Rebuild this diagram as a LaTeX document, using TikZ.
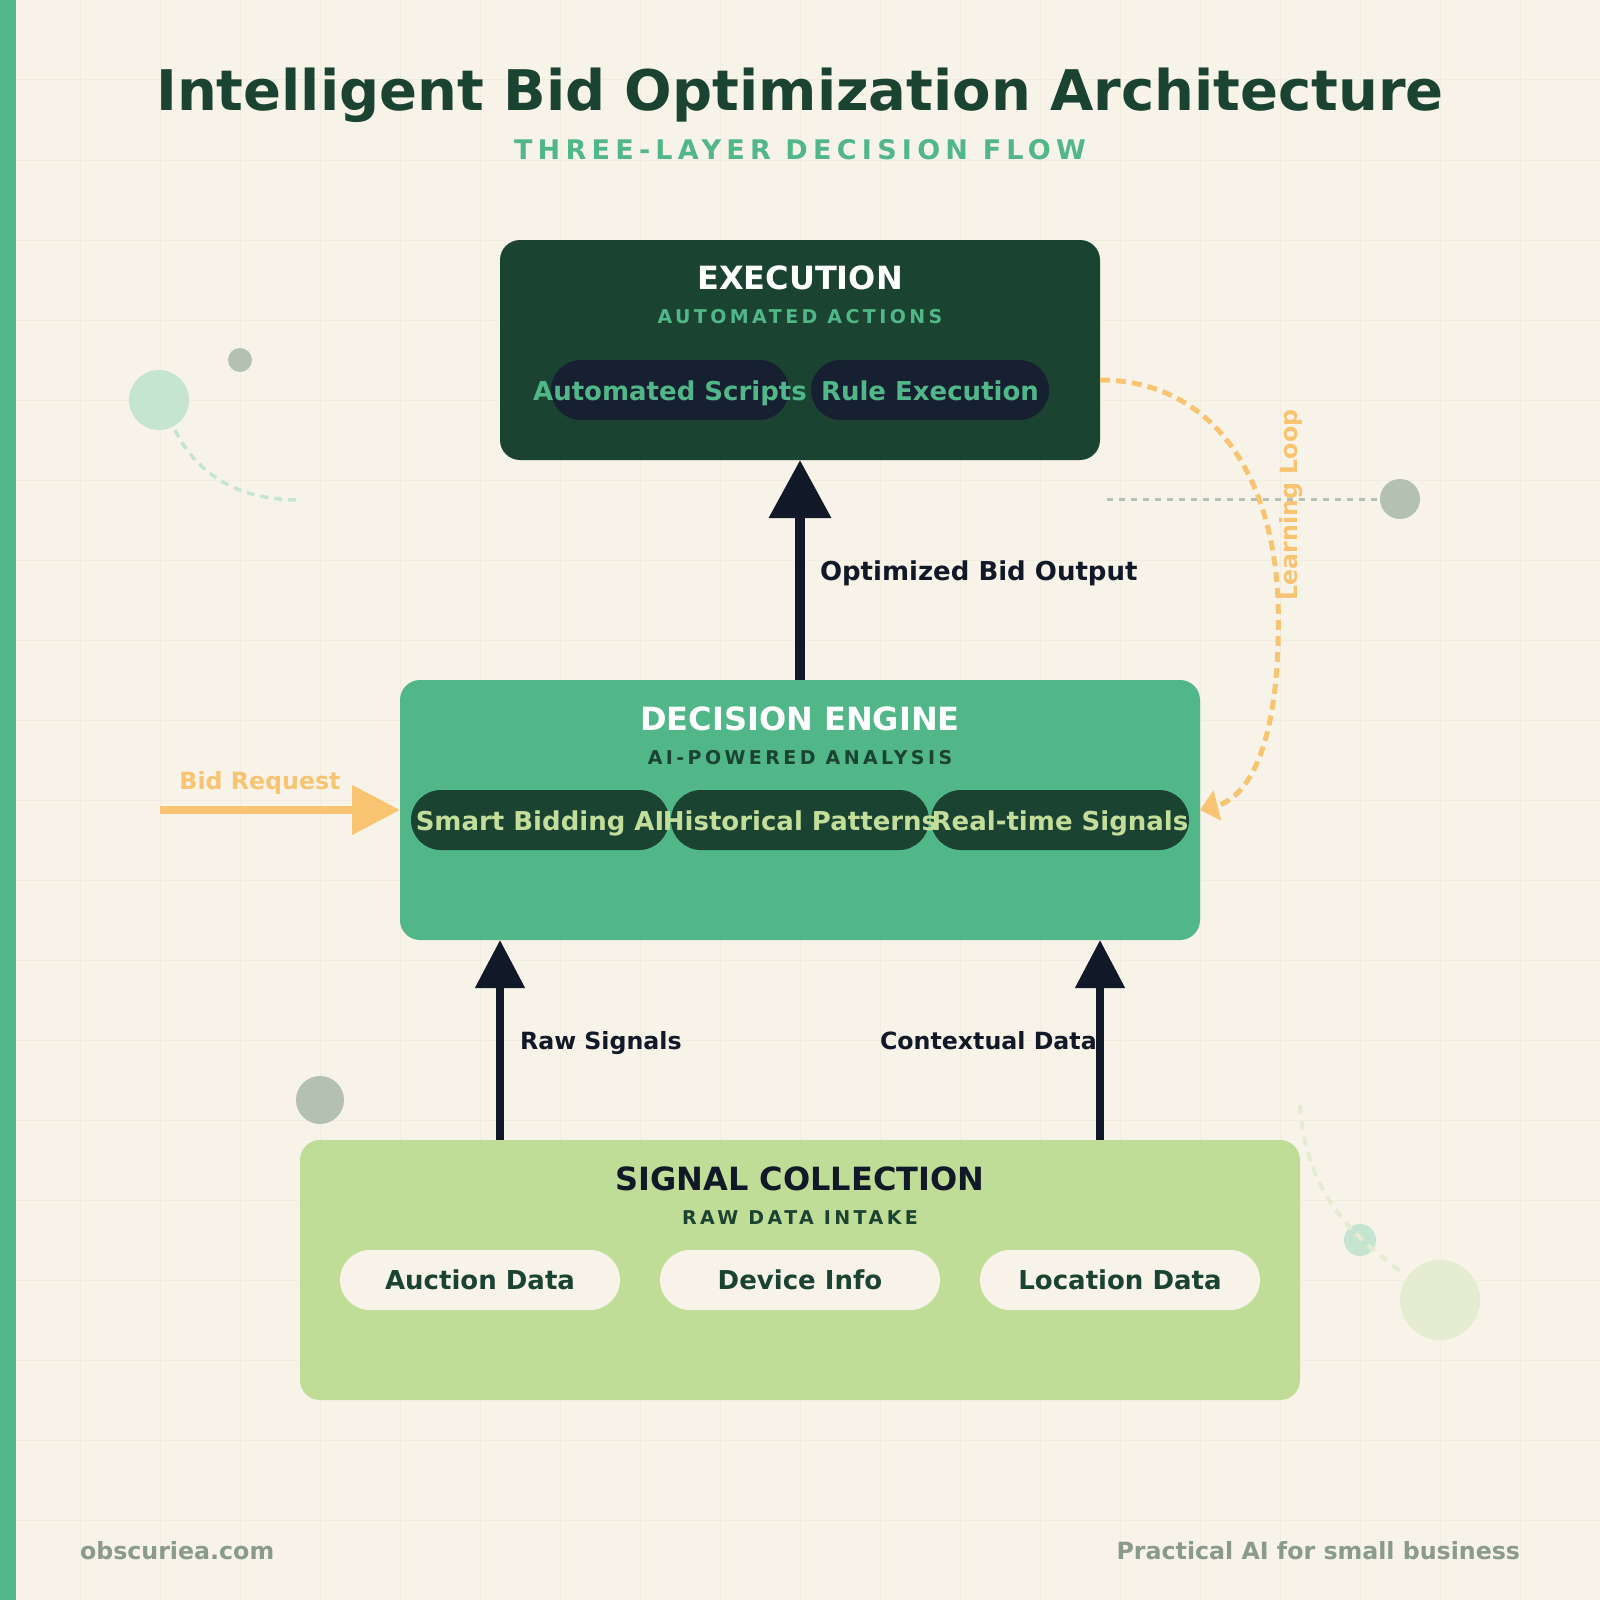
\documentclass[tikz,border=0pt]{standalone}
\usepackage{fontspec}
\setmainfont{DejaVu Sans}
\newfontfamily\lsSub{DejaVu Sans}[LetterSpace=19.5]
\newfontfamily\lsSmall{DejaVu Sans}[LetterSpace=18]
\usetikzlibrary{arrows.meta,calc}
\definecolor{bg}{HTML}{F7F3E9}
\definecolor{gridc}{HTML}{F0ECE0}
\definecolor{brand}{HTML}{52B788}
\definecolor{dkgreen}{HTML}{1B4332}
\definecolor{lime}{HTML}{C0DD97}
\definecolor{limetext}{HTML}{C3DE9B}
\definecolor{navy}{HTML}{162030}
\definecolor{ink}{HTML}{111827}
\definecolor{orange}{HTML}{F8C471}
\definecolor{graydot}{HTML}{B4C0B2}
\definecolor{mint}{HTML}{C6E5D1}
\definecolor{pale}{HTML}{E5ECD1}
\definecolor{foot}{HTML}{8A9A8B}
\newcommand{\fsz}[1]{\fontsize{#1}{#1}\selectfont}
\begin{document}
\begin{tikzpicture}[x=1pt,y=-1pt,
  txt/.style={inner sep=0pt, outer sep=0pt, anchor=base},
  box/.style={rectangle, rounded corners=20pt, inner sep=0pt, outer sep=0pt},
  pill/.style={rectangle, rounded corners=30pt, minimum height=60pt, inner sep=0pt, outer sep=0pt},
  bigarrow/.style={draw=ink, line width=10pt, -{Triangle[length=58pt,width=60pt]}},
  midarrow/.style={draw=ink, line width=8pt, -{Triangle[length=48pt,width=48pt]}},
  head/.style={txt, font=\fsz{32}\bfseries},
  sub/.style={txt, font=\lsSmall\fsz{19}\bfseries},
  pilltext/.style={txt, font=\fsz{26}\bfseries},
  lbl/.style={txt, font=\fsz{23.7}\bfseries, text=ink}]
\useasboundingbox (0,0) rectangle (1600,1600);
\fill[bg] (0,0) rectangle (1600,1600);
\foreach \g in {80,160,...,1520} {
  \draw[gridc, line width=1pt] (\g,0) -- (\g,1600);
  \draw[gridc, line width=1pt] (0,\g) -- (1600,\g);
}
\fill[brand] (0,0) rectangle (16,1600);

% decorations
\fill[mint] (159,400) circle (30);
\fill[graydot] (240,360) circle (12);
\draw[mint, line width=3.5pt, dash pattern=on 8pt off 6pt] (175,430) .. controls (205,490) and (260,500) .. (300,500);
\draw[graydot, line width=3pt, dash pattern=on 6pt off 6pt] (1107,499) -- (1378,499);
\fill[graydot] (1400,499) circle (20);
\fill[graydot] (320,1100) circle (24);
\fill[mint] (1360,1240) circle (16);
\fill[pale] (1440,1300) circle (40);
\draw[pale, line width=4pt, dash pattern=on 9pt off 7pt] (1300,1105) .. controls (1305,1190) and (1350,1235) .. (1402,1272);

% title
\node[txt, text=dkgreen, font=\fsz{56}\bfseries] (title) at (800,111) {Intelligent Bid Optimization Architecture};
\node[txt, text=brand, font=\lsSub\fsz{27}\bfseries] (subtitle) at (800,160) {THREE-LAYER DECISION FLOW};

% boxes
\node[box, fill=dkgreen, minimum width=600pt, minimum height=220pt] (exec) at (800,350) {};
\node[box, fill=brand, minimum width=800pt, minimum height=260pt] (dec) at (800,810) {};
\node[box, fill=lime, minimum width=1000pt, minimum height=260pt] (sig) at (800,1270) {};

% execution content
\node[head, text=white] (exech) at (800,289) {EXECUTION};
\node[sub, text=brand] (execs) at (800,323) {AUTOMATED ACTIONS};
\node[pill, fill=navy, minimum width=238pt] (p1) at (670,390) {};
\node[pill, fill=navy, minimum width=238pt] (p2) at (930,390) {};
\node[pilltext, text=brand] (p1t) at ($(p1.center)+(0,10)$) {Automated Scripts};
\node[pilltext, text=brand] (p2t) at ($(p2.center)+(0,10)$) {Rule Execution};

% decision content
\node[head, text=white] (dech) at (800,730) {DECISION ENGINE};
\node[sub, text=dkgreen] (decs) at (800,764) {AI-POWERED ANALYSIS};
\node[pill, fill=dkgreen, minimum width=258pt] (d1) at (540,820) {};
\node[pill, fill=dkgreen, minimum width=258pt] (d2) at (800,820) {};
\node[pill, fill=dkgreen, minimum width=258pt] (d3) at (1060,820) {};
\node[pilltext, text=limetext] (d1t) at ($(d1.center)+(0,10)$) {Smart Bidding AI};
\node[pilltext, text=limetext] (d2t) at ($(d2.center)+(0,10)$) {Historical Patterns};
\node[pilltext, text=limetext] (d3t) at ($(d3.center)+(0,10)$) {Real-time Signals};

% signal content
\node[head, text=ink] (sigh) at (800,1190) {SIGNAL COLLECTION};
\node[sub, text=dkgreen] (sigs) at (800,1224) {RAW DATA INTAKE};
\node[pill, fill=bg, minimum width=280pt] (s1) at (480,1280) {};
\node[pill, fill=bg, minimum width=280pt] (s2) at (800,1280) {};
\node[pill, fill=bg, minimum width=280pt] (s3) at (1120,1280) {};
\node[pilltext, text=dkgreen] (s1t) at ($(s1.center)+(0,9)$) {Auction Data};
\node[pilltext, text=dkgreen] (s2t) at ($(s2.center)+(0,9)$) {Device Info};
\node[pilltext, text=dkgreen] (s3t) at ($(s3.center)+(0,9)$) {Location Data};

% arrows
\draw[bigarrow] (dec.north) -- (exec.south);
\node[txt, anchor=base west, font=\fsz{26}\bfseries, text=ink] (optl) at (820,580) {Optimized Bid Output};
\draw[midarrow] ($(sig.north west)+(200,0)$) -- ($(dec.south west)+(100,0)$);
\draw[midarrow] ($(sig.north east)+(-200,0)$) -- ($(dec.south east)+(-100,0)$);
\node[lbl, anchor=base west] (rawl) at (520,1049) {Raw Signals};
\node[lbl, anchor=base west] (ctxl) at (880,1049) {Contextual Data};

% bid request
\coordinate (bidstart) at (160,810);
\draw[orange, line width=8pt, -{Triangle[length=48pt,width=48pt]}] (bidstart) -- (dec.west);
\node[txt, font=\fsz{23.7}\bfseries, text=orange] (bidl) at (260,789) {Bid Request};

% learning loop
\draw[orange, line width=5pt, dash pattern=on 10pt off 6pt, -{Triangle[length=18pt,width=30pt]}]
  ($(exec.east)+(0,30)$) .. controls (1205,380) and (1272,465) .. (1278,600)
  .. controls (1282,740) and (1250,797) .. (dec.east);
\node[txt, rotate=90, font=\fsz{23.7}\bfseries, text=orange] (loopl) at (1297,505) {Learning Loop};

% footer
\node[txt, anchor=base west, font=\fsz{23.7}\bfseries, text=foot] (footl) at (80,1559) {obscuriea.com};
\node[txt, anchor=base east, font=\fsz{23.7}\bfseries, text=foot] (footr) at (1520,1559) {Practical AI for small business};
\end{tikzpicture}
\end{document}
